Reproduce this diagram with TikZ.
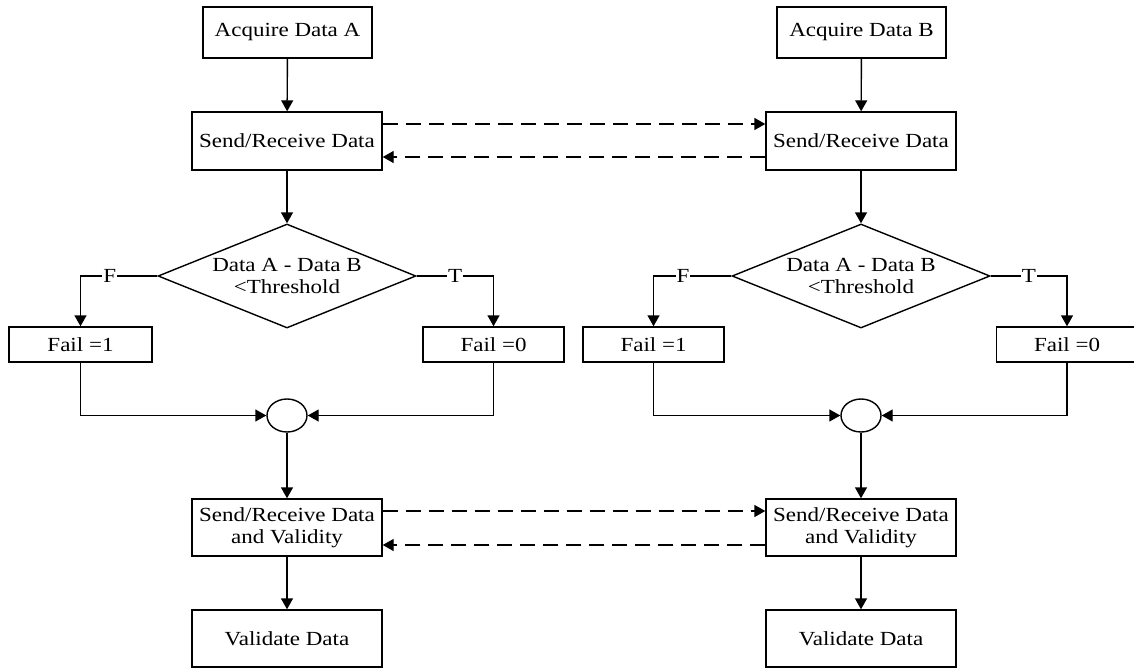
\documentclass[tikz,border=0pt]{standalone}
\usepackage{fontspec}
\setmainfont{Liberation Serif}[FakeStretch=1.15]
\usetikzlibrary{arrows.meta,shapes.geometric}

\tikzset{
  every node/.style={font=\fontsize{20}{22}\selectfont},
  box/.style={draw, line width=1.4pt, rectangle, inner sep=0pt, align=center,
              minimum width=190pt, minimum height=57pt},
  smallbox/.style={box, minimum width=141pt, minimum height=35pt},
  decision/.style={draw, line width=1.4pt, diamond, aspect=2.48, inner sep=0pt,
                   align=center, minimum width=258pt, minimum height=104pt},
  junction/.style={draw, line width=1.4pt, ellipse, inner sep=0pt,
                   minimum width=40pt, minimum height=33pt},
  flow/.style={line width=1.4pt, -{Triangle[length=11pt,width=12pt]}},
  link/.style={flow, dash pattern=on 15pt off 8pt},
  lab/.style={fill=white, inner sep=1pt}
}

\begin{document}
\begin{tikzpicture}[x=1pt, y=-1pt]
  \useasboundingbox (0,0) rectangle (1134,669);

  % ---- left chain ----
  \node[box, minimum width=169pt, minimum height=51pt] (acqA) at (287.5,32.5) {Acquire Data A};
  \node[box, minimum height=58pt] (srA) at (287,141) {Send/Receive Data};
  \node[decision] (dA) at (287,276) {Data A - Data B\\<Threshold};
  \node[smallbox, minimum width=143pt] (f1A) at (80.5,344.5) {Fail =1};
  \node[smallbox] (f0A) at (493.5,344.5) {Fail =0};
  \node[junction] (cA) at (287,415.5) {};
  \node[box] (svA) at (287,527.5) {Send/Receive Data\\and Validity};
  \node[box] (vA) at (287,638.5) {Validate Data};

  % ---- right chain ----
  \node[box, minimum width=169pt, minimum height=51pt] (acqB) at (861.5,32.5) {Acquire Data B};
  \node[box, minimum height=58pt] (srB) at (861,141) {Send/Receive Data};
  \node[decision] (dB) at (861,276) {Data A - Data B\\<Threshold};
  \node[smallbox] (f1B) at (653.5,344.5) {Fail =1};
  \node[smallbox] (f0B) at (1067,344.5) {Fail =0};
  \node[junction] (cB) at (861,415.5) {};
  \node[box] (svB) at (861,527.5) {Send/Receive Data\\and Validity};
  \node[box] (vB) at (861,638.5) {Validate Data};

  % ---- vertical flow ----
  \foreach \s in {A,B}{
    \draw[flow] (acq\s) -- (sr\s);
    \draw[flow] (sr\s) -- (d\s);
    \draw[flow] (d\s.west) -- (f1\s.north |- d\s.west)
      node[lab, pos=0.62] {F} -- (f1\s.north);
    \draw[flow] (d\s.east) -- (f0\s.north |- d\s.east)
      node[lab, pos=0.5] {T} -- (f0\s.north);
    \draw[flow] (f1\s.south) |- (c\s.west);
    \draw[flow] (f0\s.south) |- (c\s.east);
    \draw[flow] (c\s) -- (sv\s);
    \draw[flow] (sv\s) -- (v\s);
  }

  % ---- data exchange between the two chains ----
  \draw[link] ([yshift=17pt]srA.east) -- ([yshift=17pt]srB.west);
  \draw[link] ([yshift=-16pt]srB.west) -- ([yshift=-16pt]srA.east);
  \draw[link] ([yshift=16.5pt]svA.east) -- ([yshift=16.5pt]svB.west);
  \draw[link] ([yshift=-17.5pt]svB.west) -- ([yshift=-17.5pt]svA.east);
\end{tikzpicture}
\end{document}
